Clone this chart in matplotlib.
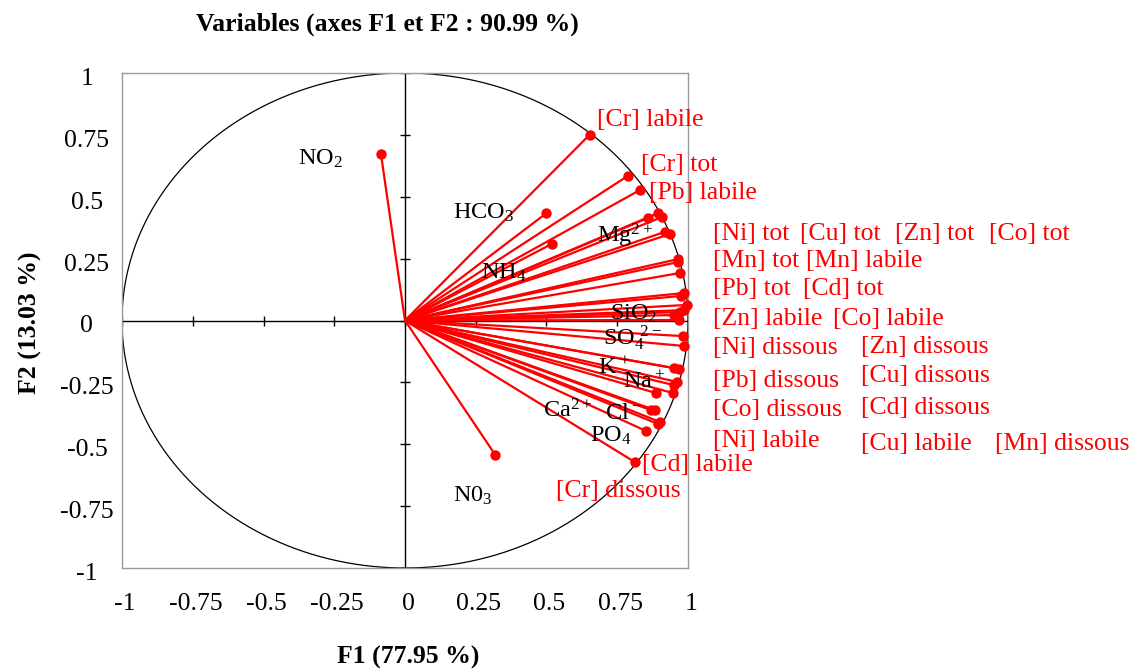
import matplotlib as mpl
import matplotlib.pyplot as plt
import matplotlib.transforms as mtransforms
import numpy as np

mpl.use("Agg")
plt.rcParams["font.family"] = ["Liberation Serif", "DejaVu Serif"]
plt.rcParams["mathtext.fontset"] = "custom"
plt.rcParams["mathtext.rm"] = "Liberation Serif"

RED = "#ff0000"
FS = 18.5

# variable coordinates on F1 / F2
variables = ["NO2", "NO3", "HCO3", "NH4", "[Cr] labile", "[Cr] tot", "[Pb] labile",
             "Mg2+", "[Ni] tot", "[Cu] tot", "[Zn] tot", "[Co] tot", "[Mn] tot", "[Mn] labile",
             "[Pb] tot", "[Cd] tot", "[Zn] labile", "[Co] labile", "SiO2", "[Ni] dissous",
             "SO4", "[Zn] dissous", "K+", "[Pb] dissous", "[Cu] dissous", "Na+", "Ca2+",
             "[Co] dissous", "[Cd] dissous", "[Ni] labile", "Cl-", "PO4", "[Cd] labile",
             "[Cu] labile", "[Mn] dissous", "[Cr] dissous"]
f1 = [-0.085, 0.319, 0.500, 0.518, 0.652, 0.787, 0.830,
      0.858, 0.894, 0.908, 0.918, 0.936, 0.965, 0.965,
      0.972, 0.986, 0.997, 0.975, 0.950, 0.986,
      0.982, 0.972, 0.950, 0.968, 0.961, 0.947, 0.887,
      0.950, 0.869, 0.883, 0.894, 0.851, 0.812,
      0.901, 0.968, 0.986]
f2 = [0.673, -0.543, 0.434, 0.309, 0.750, 0.584, 0.527,
      0.414, 0.434, 0.418, 0.358, 0.349, 0.248, 0.236,
      0.192, 0.111, 0.063, 0.099, 0.022, 0.042,
      -0.063, 0.034, -0.192, -0.196, -0.248, -0.293, -0.293,
      -0.261, -0.362, -0.362, -0.418, -0.446, -0.572,
      -0.410, 0.002, -0.103]

ticks = [-1, -0.75, -0.5, -0.25, 0, 0.25, 0.5, 0.75, 1]
tick_labels = ["-1", "-0.75", "-0.5", "-0.25", "0", "0.25", "0.5", "0.75", "1"]

# metal labels (red) and ion labels (black) with their anchor spots
red_labels = ["[Cr] labile", "[Cr] tot", "[Pb] labile",
              "[Ni] tot", "[Cu] tot", "[Zn] tot", "[Co] tot",
              "[Mn] tot", "[Mn] labile", "[Pb] tot", "[Cd] tot",
              "[Zn] labile", "[Co] labile", "[Ni] dissous", "[Zn] dissous",
              "[Pb] dissous", "[Cu] dissous", "[Co] dissous", "[Cd] dissous",
              "[Ni] labile", "[Cu] labile", "[Mn] dissous", "[Cd] labile", "[Cr] dissous"]
red_pos = [(0.677, 0.810), (0.833, 0.630), (0.862, 0.517),
           (1.089, 0.350), (1.394, 0.350), (1.730, 0.350), (2.064, 0.350),
           (1.089, 0.240), (1.418, 0.240), (1.089, 0.127), (1.408, 0.127),
           (1.089, 0.006), (1.514, 0.006), (1.089, -0.111), (1.610, -0.107),
           (1.089, -0.244), (1.610, -0.224), (1.089, -0.362), (1.610, -0.353),
           (1.089, -0.487), (1.610, -0.499), (2.085, -0.499), (0.837, -0.584), (0.535, -0.689)]
black_labels = [r"$\mathregular{NO_2}$", r"$\mathregular{HCO_3}$", r"$\mathregular{NH_4}$",
                r"$\mathregular{Mg^{2+}}$", r"$\mathregular{SiO_2}$", r"$\mathregular{SO_4^{\ 2-}}$",
                r"$\mathregular{K^+}$", r"$\mathregular{Na^+}$", r"$\mathregular{Ca^{2+}}$",
                r"$\mathregular{Cl^-}$", r"$\mathregular{PO_4}$", r"$\mathregular{N0_3}$"]
black_pos = [(-0.379, 0.628), (0.170, 0.412), (0.270, 0.170),
             (0.677, 0.315), (0.723, 0.004), (0.699, -0.097),
             (0.681, -0.218), (0.770, -0.271), (0.489, -0.392),
             (0.706, -0.396), (0.652, -0.489), (0.170, -0.731)]

fig = plt.figure(figsize=(11.31, 6.70), dpi=100)
ax = fig.add_axes([122 / 1131, 1 - 568 / 670, 566 / 1131, 495 / 670])
ax.set_xlim(-1, 1)
ax.set_ylim(-1, 1)
ax.set_xticks([]); ax.set_yticks([])
for sp in ax.spines.values():
    sp.set_color("#9a9a9a"); sp.set_linewidth(1.0)

# correlation circle and central axes
t = np.linspace(0, 2 * np.pi, 400)
ax.plot(np.cos(t), np.sin(t), color="black", lw=0.9, zorder=1)
ax.plot([0, 0], [-1, 1], color="black", lw=1.0, zorder=1)
ax.plot([-1, 1], [0, 0], color="black", lw=1.0, zorder=1)
ax.plot([0] * len(ticks), ticks, ls="none", marker="_", ms=7, mew=1.0, color="black", zorder=1)
ax.plot(ticks, [0] * len(ticks), ls="none", marker="|", ms=7, mew=1.0, color="black", zorder=1)

for x, y in zip(f1, f2):
    ax.plot([0, x], [0, y], color=RED, lw=1.6, zorder=2, solid_capstyle="butt")
ax.scatter(f1, f2, s=42, color=RED, zorder=3, clip_on=False)

for txt, (x, y) in zip(red_labels, red_pos):
    ax.text(x, y, txt, color=RED, fontsize=FS, ha="left", va="center", clip_on=False)
for txt, (x, y) in zip(black_labels, black_pos):
    ax.text(x, y, txt, color="black", fontsize=17.5, ha="left", va="baseline", clip_on=False)

# tick labels outside the frame
xtr = mtransforms.blended_transform_factory(ax.transData, ax.transAxes)
ytr = mtransforms.blended_transform_factory(ax.transAxes, ax.transData)
ytr = mtransforms.offset_copy(ytr, fig=fig, y=-6, units="dots")
xtr = mtransforms.offset_copy(xtr, fig=fig, x=3, units="dots")
for v, lab in zip(ticks, tick_labels):
    ax.text(v, -0.0727, lab, transform=xtr, ha="center", va="center", fontsize=FS, clip_on=False)
    ax.text(-0.062, v, lab, transform=ytr, ha="center", va="center", fontsize=FS, clip_on=False)

fig.text(387 / 1131, 1 - 24 / 670, "Variables (axes F1 et F2 : 90.99 %)",
         ha="center", va="center", fontsize=FS, fontweight="bold")
fig.text(408 / 1131, 1 - 657 / 670, "F1 (77.95 %)", ha="center", va="center",
         fontsize=FS, fontweight="bold")
fig.text(30 / 1131, 1 - 323 / 670, "F2 (13.03 %)", ha="center", va="center",
         rotation=90, fontsize=FS, fontweight="bold")

fig.savefig("out.png", dpi=100, facecolor="white")
